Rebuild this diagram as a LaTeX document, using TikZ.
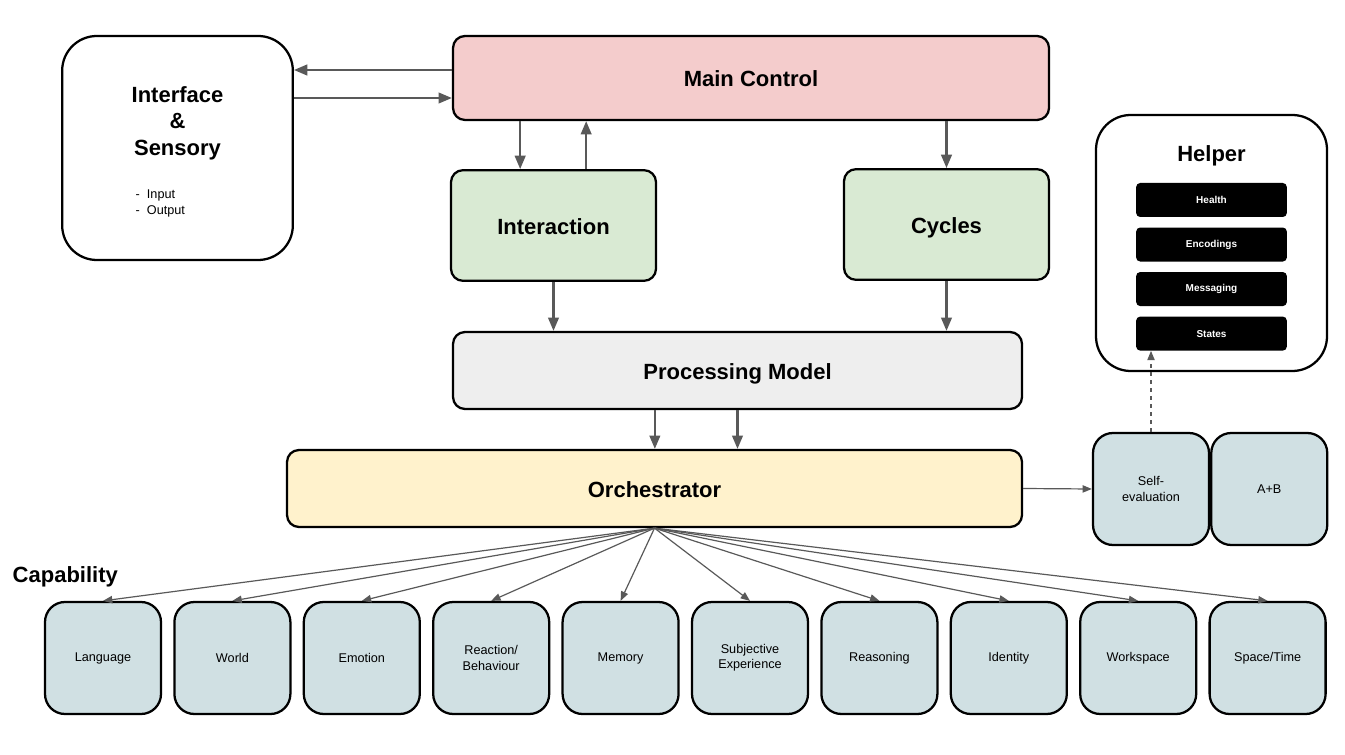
\documentclass[tikz,border=0pt]{standalone}
\usepackage{fontspec}
\setmainfont{Liberation Sans}
\usetikzlibrary{arrows.meta,positioning}
\definecolor{ArrGray}{HTML}{595959}
\definecolor{CtlPink}{HTML}{F4CCCC}
\definecolor{LoopGreen}{HTML}{D9EAD3}
\definecolor{ProcGray}{HTML}{EEEEEE}
\definecolor{OrchYellow}{HTML}{FFF2CC}
\definecolor{CapBlue}{HTML}{D0E0E3}

\begin{document}
\begin{tikzpicture}[x=0.75pt,y=-0.75pt,
    block/.style={draw=black,line width=1.7pt,rounded corners=9pt,
      font=\fontsize{16.5}{20}\selectfont\bfseries,align=center,
      text height=15pt,text depth=2pt},
    bigbox/.style={draw=black,line width=1.7pt,rounded corners=26pt,fill=white},
    capbox/.style={draw=black,line width=1.7pt,rounded corners=15pt,fill=CapBlue,
      minimum width=87pt,minimum height=84pt,align=center,
      font=\fontsize{9.5}{11.5}\selectfont},
    tool/.style={fill=black,rounded corners=3pt,minimum width=113pt,minimum height=25.5pt,
      text=white,font=\fontsize{7.5}{9}\selectfont\bfseries},
    title/.style={font=\fontsize{16.5}{20}\selectfont\bfseries,align=center},
    arrow/.style={-{Triangle[length=10pt,width=8pt]},line width=1.6pt,color=ArrGray},
    thin/.style={-{Triangle[length=7pt,width=5.5pt]},line width=0.9pt,color=ArrGray}
  ]
  \useasboundingbox (0,0) rectangle (1345,755);

  % top row
  \node[bigbox,minimum width=173pt,minimum height=168pt] (iface) at (177.5,148) {};
  \node[title] (ifacetitle) at (177.5,123) {Interface\\\&\\Sensory};
  \node[font=\fontsize{9.5}{12}\selectfont,align=left,anchor=west] (ifacelist) at (131,203)
    {-\ \ Input\\-\ \ Output};
  \node[block,fill=CtlPink,minimum width=447pt,minimum height=63pt] (main) at (751,78) {Main Control};

  % loops
  \node[block,fill=LoopGreen,minimum width=153.75pt,minimum height=83pt] (inter) at (553.5,225.5) {Interaction};
  \node[block,fill=LoopGreen,minimum width=153.75pt,minimum height=83pt] (cycles) at (946.5,224.5) {Cycles};

  % processing
  \node[block,fill=ProcGray,minimum width=426.75pt,minimum height=57.75pt] (proc) at (737.5,370.5) {Processing Model};
  \node[block,fill=OrchYellow,minimum width=551.25pt,minimum height=57.75pt] (orch) at (654.5,488.5) {Orchestrator};

  % helper
  \node[bigbox,minimum width=173.25pt,minimum height=192pt] (helper) at (1211.5,243) {};
  \node[title] (helpertitle) at (1211.5,156) {Helper};
  \node[tool] (health) at (1211.5,200) {Health};
  \node[tool,below=7.5pt of health] (enc) {Encodings};
  \node[tool,below=7.5pt of enc] (msg) {Messaging};
  \node[tool,below=7.5pt of msg] (states) {States};

  \node[capbox] (selfev) at (1151,489) {Self-\\evaluation};
  \node[capbox,right=0pt of selfev] (ab) {A+B};

  % capabilities
  \node[title,anchor=west] (caplabel) at (8,577) {Capability};
  \foreach \name/\txt [count=\i from 0] in {lang/Language,world/World,emo/Emotion,
      react/{Reaction/\\Behaviour},mem/Memory,subj/{Subjective\\Experience},reas/Reasoning,
      ident/Identity,work/Workspace,spti/{Space/Time}}
    \node[capbox] (\name) at (103+129.4*\i,658) {\txt};

  % arrows
  \draw[arrow] ([yshift=6pt]main.west) -- ([yshift=6pt]main.west -| iface.east);
  \draw[arrow] ([yshift=-15pt]main.west -| iface.east) -- ([yshift=-15pt]main.west);
  \draw[arrow] ([xshift=-25pt]inter.north |- main.south) -- ([xshift=-25pt]inter.north);
  \draw[arrow] ([xshift=24.5pt]inter.north) -- ([xshift=24.5pt]inter.north |- main.south);
  \draw[arrow] (cycles.north |- main.south) -- (cycles.north);
  \draw[arrow] (inter.south) -- (inter.south |- proc.north);
  \draw[arrow] (cycles.south) -- (cycles.south |- proc.north);
  \draw[arrow] ([xshift=-62pt]proc.south) -- ([xshift=-62pt]proc.south |- orch.north);
  \draw[arrow] (proc.south) -- (proc.south |- orch.north);
  \draw[thin] (orch.east) -- (selfev.west);
  \draw[thin,dashed] (selfev.north) -- (selfev.north |- states.south);
  \foreach \name in {lang,world,emo,react,mem,subj,reas,ident,work,spti}
    \draw[thin] (orch.south) -- (\name.north);
\end{tikzpicture}
\end{document}
